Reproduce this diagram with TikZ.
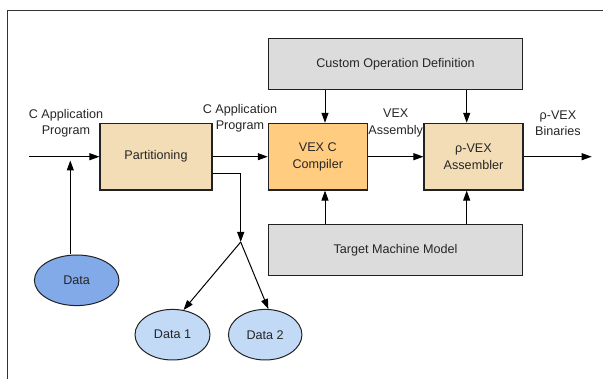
\documentclass[tikz,border=0pt]{standalone}
\usepackage{fontspec}
\setmainfont{Liberation Sans}
\usetikzlibrary{arrows.meta,shapes.geometric,calc}
\definecolor{wheatfill}{HTML}{F3DDB6}
\definecolor{orangefill}{HTML}{FFCC80}
\definecolor{grayfill}{HTML}{DCDCDC}
\definecolor{darkblue}{HTML}{82A9E8}
\definecolor{lightblue}{HTML}{C3DAF7}
\definecolor{edgecol}{HTML}{222222}
\tikzset{
  txt/.style={font=\fontsize{12.6}{16.5}\selectfont, text=black!85},
  boxnode/.style={txt, draw=edgecol, line width=1.1pt, align=center, inner sep=0pt},
  ellnode/.style={txt, ellipse, draw=edgecol, line width=1pt, inner sep=0pt, minimum height=50.6pt},
  lbl/.style={txt, align=center, inner sep=0pt},
  arr/.style={draw=black, line width=1pt, -{Triangle[length=10pt,width=7pt]}},
  plain/.style={draw=black, line width=1pt},
}
\begin{document}
\begin{tikzpicture}[x=1pt,y=-1pt]
\useasboundingbox (0,0) rectangle (603,379);
\draw[draw=black!80, line width=1pt] (603,10.7) -- (7.7,10.7) -- (7.7,379);

\node[boxnode, fill=grayfill, minimum width=254.4pt, minimum height=51pt] (cod) at (395.5,63.8) {Custom Operation Definition};
\node[boxnode, fill=grayfill, minimum width=254.4pt, minimum height=51.4pt] (tmm) at (395.5,250) {Target Machine Model};
\node[boxnode, fill=wheatfill, minimum width=112pt, minimum height=66.7pt] (part) at (156,156.7) {Partitioning};
\node[boxnode, fill=orangefill, minimum width=99pt, minimum height=66.7pt] (vex) at (317.8,156.7) {VEX C\\Compiler};
\node[boxnode, fill=wheatfill, minimum width=99pt, minimum height=66.7pt] (asm) at (473.5,156.7) {ρ-VEX\\Assembler};

\node[ellnode, fill=darkblue, minimum width=84.6pt] (data) at (76.7,280.3) {Data};
\node[ellnode, fill=lightblue, minimum width=75pt] (d1) at (172.5,334.7) {Data 1};
\node[ellnode, fill=lightblue, minimum width=73.5pt] (d2) at (265.2,334.7) {Data 2};

\node[lbl] (l1) at (66,123) {C Application\\Program};
\node[lbl] (l2) at (240,118) {C Application\\Program};
\node[lbl] (l3) at (395.7,123) {VEX\\Assembly};
\node[lbl] (l4) at (558,123) {ρ-VEX\\Binaries};

\coordinate (in) at (29,156.7);
\coordinate (out) at (591.7,156.7);
\coordinate (dtip) at (70.3,160.5);
\coordinate (br) at (240.7,242);

\draw[arr] (in) -- (part.west);
\draw[arr] (part.east) -- (vex.west);
\draw[arr] (vex.east) -- (asm.west);
\draw[arr] (asm.east) -- (out);

\draw[arr] ([xshift=7.2pt]vex.north |- cod.south) -- ([xshift=7.2pt]vex.north);
\draw[arr] ([xshift=-6.8pt]asm.north |- cod.south) -- ([xshift=-6.8pt]asm.north);
\draw[arr] ([xshift=7.2pt]vex.south |- tmm.north) -- ([xshift=7.2pt]vex.south);
\draw[arr] ([xshift=-6.8pt]asm.south |- tmm.north) -- ([xshift=-6.8pt]asm.south);

\draw[arr] (dtip |- data.north) -- (dtip);
\draw[arr] ($(part.east)!0.5!(part.south east)$) -| (br);
\draw[arr] (br) -- (d1.66);
\draw[arr] (br) -- (d2.83);
\end{tikzpicture}
\end{document}
